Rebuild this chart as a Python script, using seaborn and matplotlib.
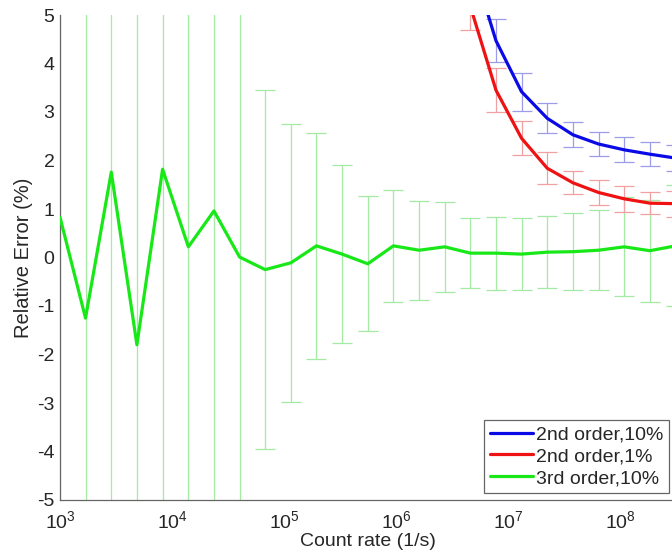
import matplotlib
matplotlib.use("Agg")
import matplotlib.pyplot as plt
import numpy as np
import pandas as pd
import seaborn as sns
from matplotlib.ticker import LogLocator, NullFormatter, FixedLocator, FixedFormatter

# Count rates (1/s) at which the estimators were evaluated
rate = [1.00e3, 1.69e3, 2.87e3, 4.86e3, 8.24e3, 1.40e4, 2.37e4, 4.01e4,
        6.79e4, 1.15e5, 1.95e5, 3.30e5, 5.60e5, 9.48e5, 1.61e6, 2.72e6,
        4.61e6, 7.81e6, 1.32e7, 2.24e7, 3.80e7, 6.43e7, 1.09e8, 1.85e8,
        3.13e8]

# 3rd order, 10% : mean relative error (%) and its spread
err_3rd_10 = [0.83, -1.25, 1.76, -1.80, 1.82, 0.22, 0.96, 0.01,
              -0.25, -0.11, 0.24, 0.07, -0.13, 0.24, 0.15, 0.22,
              0.09, 0.09, 0.07, 0.11, 0.12, 0.15, 0.22, 0.14, 0.24]
sd_3rd_10 = [8.5, 8.2, 7.9, 7.6, 7.2, 6.8, 6.4, 6.0,
             3.70, 2.87, 2.33, 1.83, 1.39, 1.16, 1.02, 0.93,
             0.72, 0.75, 0.75, 0.74, 0.79, 0.83, 1.02, 1.05, 1.25]

# 2nd order series exist only at the highest rates
rate_2nd = rate[16:]
err_2nd_10 = [6.20, 4.47, 3.42, 2.87, 2.53, 2.34, 2.22, 2.13, 2.05]
sd_2nd_10 = [0.50, 0.44, 0.39, 0.31, 0.26, 0.25, 0.26, 0.25, 0.26]
err_2nd_1 = [5.18, 3.45, 2.46, 1.84, 1.54, 1.34, 1.21, 1.12, 1.11]
sd_2nd_1 = [0.49, 0.45, 0.35, 0.33, 0.24, 0.25, 0.27, 0.23, 0.27]

labels = ["2nd order,10%", "2nd order,1%", "3rd order,10%"]
line_colors = {"2nd order,10%": "#0a0ae6", "2nd order,1%": "#ee1212",
               "3rd order,10%": "#18e818"}
bar_colors = {"2nd order,10%": "#9c9ce8", "2nd order,1%": "#f0a0a0",
              "3rd order,10%": "#a4eaa4"}

df = pd.concat([
    pd.DataFrame({"rate": rate_2nd, "err": err_2nd_10, "sd": sd_2nd_10, "series": labels[0]}),
    pd.DataFrame({"rate": rate_2nd, "err": err_2nd_1, "sd": sd_2nd_1, "series": labels[1]}),
    pd.DataFrame({"rate": rate, "err": err_3rd_10, "sd": sd_3rd_10, "series": labels[2]}),
], ignore_index=True)

sns.set_style("white")
plt.rcParams["font.family"] = ["Liberation Sans", "DejaVu Sans"]
plt.rcParams["mathtext.default"] = "regular"
plt.rcParams["axes.unicode_minus"] = False

W, H = 672, 558
fig = plt.figure(figsize=(W / 100, H / 100), dpi=100)
ax = fig.add_axes([60 / W, 58 / H, 616 / W, 485 / H])
ax.set_xscale("log")

# error bars first, thin and pale
for name in labels[::-1]:
    d = df[df.series == name]
    ax.errorbar(d["rate"], d["err"], yerr=d["sd"], fmt="none",
                ecolor=bar_colors[name], elinewidth=0.9, capsize=7,
                capthick=0.9, zorder=2)

sns.lineplot(data=df, x="rate", y="err", hue="series", hue_order=labels,
             palette=line_colors, linewidth=2.3, estimator=None, sort=False,
             ax=ax, zorder=3)

ax.set_xlim(1e3, 10 ** 8.5)
ax.set_ylim(-5, 5)

ax.xaxis.set_major_locator(FixedLocator([1e3, 1e4, 1e5, 1e6, 1e7, 1e8]))
ax.xaxis.set_major_formatter(FixedFormatter(
    ["$10^{3}$", "$10^{4}$", "$10^{5}$", "$10^{6}$", "$10^{7}$", "$10^{8}$"]))
ax.xaxis.set_minor_locator(LogLocator(base=10, subs=np.arange(2, 10), numticks=20))
ax.xaxis.set_minor_formatter(NullFormatter())
ax.set_yticks(range(-5, 6))
ax.set_yticklabels([str(v) for v in range(-5, 6)])

ax.tick_params(axis="both", which="major", direction="in", length=5,
               width=0.8, color="#555555", labelsize=14, pad=4)
ax.tick_params(axis="x", which="minor", direction="in", length=3,
               width=0.8, color="#555555")
ax.tick_params(axis="x", which="major", pad=7)
ax.tick_params(top=False, right=False)

for side in ("top", "right"):
    ax.spines[side].set_visible(False)
for side in ("left", "bottom"):
    ax.spines[side].set_color("#666666")
    ax.spines[side].set_linewidth(0.9)

ax.set_xlabel("Count rate (1/s)", fontsize=14, labelpad=1)
ax.set_ylabel("Relative Error (%)", fontsize=14.5, labelpad=3)

handles, lbls = ax.get_legend_handles_labels()
for h in handles:
    h.set_linewidth(2.3)
leg = ax.legend(handles, lbls, loc="lower right",
                bbox_to_anchor=(669 / W, 65 / H), bbox_transform=fig.transFigure,
                fontsize=14, frameon=True, fancybox=False, framealpha=1,
                edgecolor="#666666", handlelength=2.2, handletextpad=0.15,
                labelspacing=0.22, borderpad=0.3, borderaxespad=0)
leg.get_frame().set_linewidth(0.9)

fig.savefig("out.png", dpi=100)
